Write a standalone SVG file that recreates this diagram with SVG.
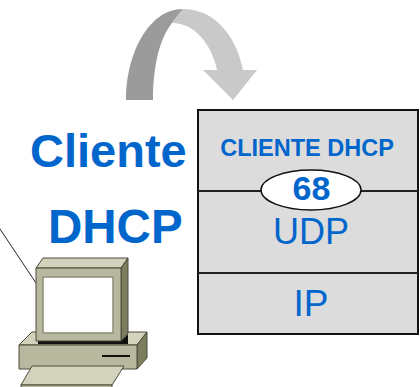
<svg xmlns="http://www.w3.org/2000/svg" width="420" height="387" viewBox="0 0 420 387">
  <style>
    .blue { fill: #0066cc; font-family: "Liberation Sans", Arial, sans-serif; }
    .bold { font-weight: bold; }
    .layer { fill: #dcdcdc; stroke: #111; stroke-width: 2; }
    .div { stroke: #222; stroke-width: 2; }
    .pc { stroke: #4a4a3a; stroke-width: 1; stroke-linejoin: round; }
    .front { fill: #b8b89e; }
    .top { fill: #d2d2bd; }
    .side { fill: #7c7c5e; }
  </style>

  <!-- curved arrow -->
  <g id="arrow">
    <path d="M126,100 C126,55 148,9 183,9 L172,23 C160,38 153,65 153,100 Z" fill="#9b9b9b"/>
    <path d="M183,9 C214,9 236,35 243,70 L257,70 L233,100 L203,70 L217,70 C212,45 195,23 172,23 Z" fill="#c9c9c9"/>
  </g>

  <!-- connectors -->
  <g id="connectors">
    <line x1="-2" y1="226" x2="36" y2="283" stroke="#222" stroke-width="1"/>
  </g>

  <!-- label -->
  <g id="label">
    <text class="blue bold" x="30" y="167" font-size="47">Cliente</text>
    <text class="blue bold" x="48" y="243" font-size="47.5">DHCP</text>
  </g>

  <!-- protocol stack -->
  <g id="stack">
    <rect class="layer" x="198" y="110" width="220" height="224"/>
    <line class="div" x1="198" y1="191" x2="418" y2="191"/>
    <line class="div" x1="198" y1="273" x2="418" y2="273"/>
    <text class="blue bold" x="307" y="156" font-size="23.5" text-anchor="middle">CLIENTE DHCP</text>
    <text class="blue" x="311" y="244" font-size="36" text-anchor="middle">UDP</text>
    <text class="blue" x="311" y="316" font-size="37" text-anchor="middle">IP</text>
  </g>

  <!-- port number -->
  <g id="port">
    <ellipse cx="311" cy="190" rx="50" ry="20" fill="#fff" stroke="#111" stroke-width="1.5"/>
    <text class="blue bold" x="311.5" y="200" font-size="34" text-anchor="middle">68</text>
  </g>

  <!-- workstation -->
  <g id="computer">
    <!-- base unit -->
    <polygon class="pc top" points="19,345 32,332 147,332 137,345"/>
    <polygon class="pc side" points="137,345 147,332 147,358 137,369"/>
    <rect class="pc front" x="19" y="345" width="118" height="24"/>
    <line x1="102" y1="356" x2="130" y2="356" stroke="#111" stroke-width="2"/>
    <!-- keyboard -->
    <polygon class="pc top" points="32,366 124,366 112,385 21,385"/>
    <rect class="pc front" x="21" y="385" width="91" height="4"/>
    <!-- monitor -->
    <polygon points="38,341 121,341 128,334 128,344 121,344 38,344" fill="#111"/>
    <polygon class="pc top" points="36,268 43,258 128,258 121,268"/>
    <polygon class="pc side" points="121,268 128,258 128,333 121,341"/>
    <rect class="pc front" x="36" y="268" width="85" height="73"/>
    <rect x="43" y="277" width="70" height="56" fill="#fff" stroke="#8c8c7a" stroke-width="1.5"/>
  </g>
</svg>
